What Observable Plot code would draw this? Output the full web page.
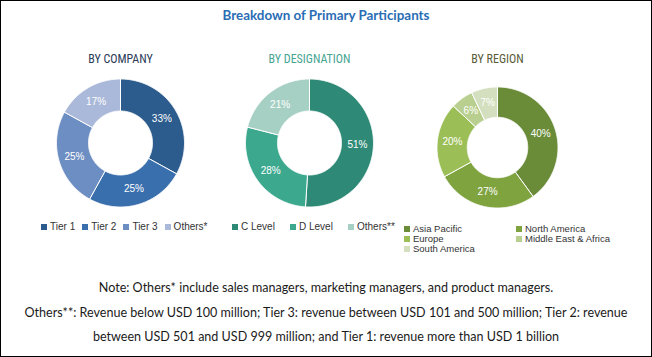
<!DOCTYPE html>
<html><head><meta charset="utf-8">
<script src="https://cdn.jsdelivr.net/npm/d3@7"></script>
<script src="https://cdn.jsdelivr.net/npm/@observablehq/plot@0.6"></script>
<style>
body{margin:0;background:#fff;}
#frame{position:relative;width:652px;height:357px;overflow:hidden;background:#fff;font-family:"Liberation Sans",Arial,sans-serif;}
#border{position:absolute;left:0;top:0;width:652px;height:357px;box-sizing:border-box;border:1px solid #000;pointer-events:none;}
#title{position:absolute;left:0;width:652px;top:7px;text-align:center;font:bold 13.4px Lato,sans-serif;color:#2a6db5;}
.chart{position:absolute;}
.legwrap{position:absolute;}
.note{position:absolute;left:0;width:652px;text-align:center;font:12.55px Lato,sans-serif;color:#1a1a1a;white-space:nowrap;}
</style>
</head><body>
<div id="frame">
  <div id="title"></div>
  <div id="border"></div>
</div>
<script>
// ---- data ----
const chartTitle = "Breakdown of Primary Participants";
const panelTitles = ["BY COMPANY", "BY DESIGNATION", "BY REGION"];
const companyTiers = ["Tier 1", "Tier 2", "Tier 3", "Others*"];
const companyShares = [33, 25, 25, 17];
const designationLevels = ["C Level", "D Level", "Others**"];
const designationShares = [51, 28, 21];
const regions = ["Asia Pacific", "North America", "Europe", "Middle East & Africa", "South America"];
const regionShares = [40, 27, 20, 6, 7];
const noteLines = [
  "Note: Others* include sales managers, marketing managers, and product managers.",
  "Others**: Revenue below USD 100 million; Tier 3: revenue between USD 101 and 500 million; Tier 2: revenue",
  "between USD 501 and USD 999 million; and Tier 1: revenue more than USD 1 billion"
];

// ---- styles / layout ----
const companyColors = ["#2c5b8d", "#3a6fae", "#6d8ec2", "#aab9d9"];
const designationColors = ["#2e8a76", "#3ca98f", "#a6d0c4"];
const regionColors = ["#6a8c39", "#7ea33f", "#9cbe57", "#b8cf8f", "#d3dfbe"];
const panelTitleColors = ["#2c3b57", "#46a593", "#5a5c38"];

const panels = [
  {title: panelTitles[0], cats: companyTiers, vals: companyShares, colors: companyColors, tcolor: panelTitleColors[0], cx: 119.5, cy: 142.5, R: 64,
   leg: {left: 41, top: 222, item: null, gap: 7, font: 10, lh: 10}},
  {title: panelTitles[1], cats: designationLevels, vals: designationShares, colors: designationColors, tcolor: panelTitleColors[1], cx: 309, cy: 142.5, R: 64,
   leg: {left: 232, top: 222, item: 58, gap: 0, font: 10, lh: 10}},
  {title: panelTitles[2], cats: regions, vals: regionShares, colors: regionColors, tcolor: panelTitleColors[2], cx: 496.5, cy: 147, R: 60.5,
   leg: {left: 404, top: 224, item: 112, gap: 0, font: 9.5, width: 240, lh: 10}}
];

const frame = document.getElementById("frame");
document.getElementById("title").textContent = chartTitle;

const W = 190, H = 165, T = 50;

panels.forEach((p, i) => {
  const r = p.R * 0.5;
  const arcs = d3.pie().sort(null).value(d => d)(p.vals);
  const pts = [];
  arcs.forEach((a, j) => {
    const n = Math.max(2, Math.ceil((a.endAngle - a.startAngle) / 0.01));
    const ring = [];
    for (let k = 0; k <= n; k++) { const t = a.startAngle + (a.endAngle - a.startAngle) * k / n; ring.push([p.R * Math.sin(t), p.R * Math.cos(t)]); }
    for (let k = n; k >= 0; k--) { const t = a.startAngle + (a.endAngle - a.startAngle) * k / n; ring.push([r * Math.sin(t), r * Math.cos(t)]); }
    ring.push(ring[0]);
    ring.forEach(([x, y]) => pts.push({cat: p.cats[j], x, y}));
  });
  const rm = (p.R + r) / 2;
  const labels = arcs.map((a, j) => {
    const m = (a.startAngle + a.endAngle) / 2;
    return {x: rm * Math.sin(m), y: rm * Math.cos(m), text: p.vals[j] + "%"};
  });
  const top = p.cy - T;
  const chart = Plot.plot({
    width: W, height: H, margin: 0,
    x: {domain: [-W / 2, W / 2], axis: null},
    y: {domain: [top - H, top], axis: null},
    color: {domain: p.cats, range: p.colors},
    style: {background: "transparent", overflow: "visible"},
    marks: [
      Plot.line(pts, {x: "x", y: "y", z: "cat", fill: "cat", stroke: "#fff", strokeWidth: 1, curve: "linear"}),
      Plot.text(labels, {x: "x", y: "y", text: "text", fill: "white", fontSize: 10, fontFamily: "Liberation Sans, Arial, sans-serif"}),
      Plot.text([p.title], {frameAnchor: "top", dy: 4, text: d => d, fill: p.tcolor, fontSize: 12,
        fontFamily: "Liberation Sans Narrow, Roboto Condensed, Roboto, sans-serif", fontWeight: "normal"})
    ]
  });
  const holder = document.createElement("div");
  holder.className = "chart";
  holder.style.left = (p.cx - W / 2) + "px";
  holder.style.top = T + "px";
  holder.appendChild(chart);
  frame.insertBefore(holder, document.getElementById("border"));

  const cls = "lg" + i;
  const leg = Plot.legend({color: {type: "ordinal", domain: p.cats, range: p.colors}, legend: "swatches", swatchSize: 6, className: cls});
  const st = document.createElement("style");
  st.textContent = `
    .${cls}-swatches{min-height:0 !important;margin:0 !important;color:#333 !important;font-family:"Liberation Sans",Arial,sans-serif !important;font-size:${p.leg.font}px !important;line-height:${p.leg.lh}px !important;${p.leg.width ? "width:" + p.leg.width + "px;" : ""}}
    .${cls}-swatch{margin-right:${p.leg.gap}px !important;${p.leg.item ? "width:" + p.leg.item + "px;" : ""}height:${p.leg.lh}px;}
    .${cls}-swatch > svg{margin-right:3px !important;}
  `;
  document.head.appendChild(st);
  const lw = document.createElement("div");
  lw.className = "legwrap";
  lw.style.left = p.leg.left + "px";
  lw.style.top = p.leg.top + "px";
  lw.appendChild(leg);
  frame.insertBefore(lw, document.getElementById("border"));
});

const noteTops = [280, 305, 329];
noteLines.forEach((t, i) => {
  const d = document.createElement("div");
  d.className = "note";
  d.style.top = noteTops[i] + "px";
  d.textContent = t;
  frame.insertBefore(d, document.getElementById("border"));
});
</script>
</body></html>
